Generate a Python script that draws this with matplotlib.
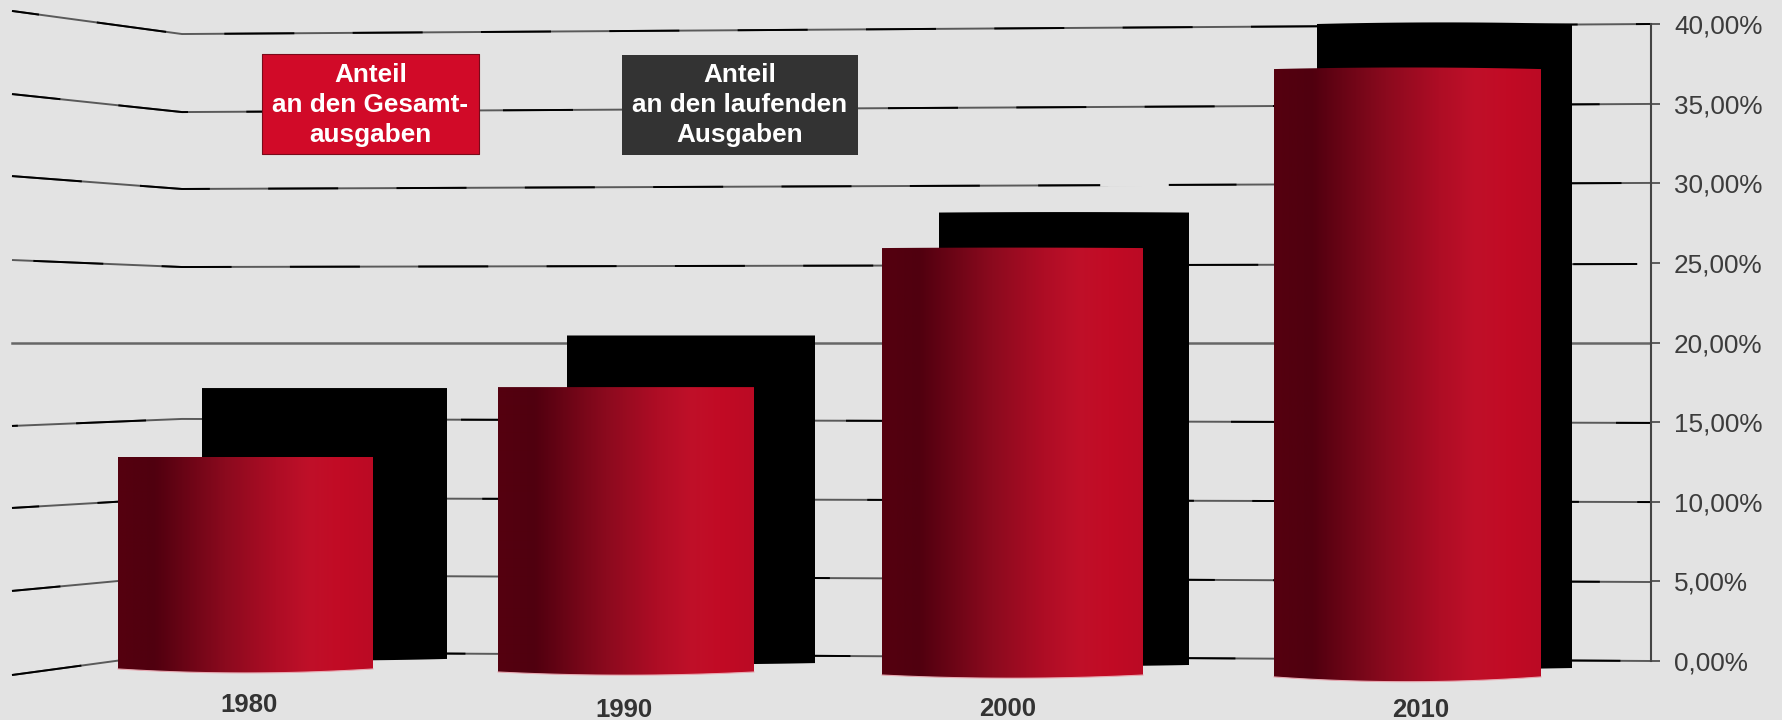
import numpy as np
import matplotlib
matplotlib.use('Agg')
import matplotlib.pyplot as plt
from matplotlib.colors import LinearSegmentedColormap
from matplotlib.patches import Polygon

plt.rcParams['font.family'] = ['Liberation Sans', 'DejaVu Sans']

years = ['1980', '1990', '2000', '2010']
tick_values = [0, 5, 10, 15, 20, 25, 30, 35, 40]
tick_labels = ['0,00%', '5,00%', '10,00%', '15,00%', '20,00%', '25,00%', '30,00%', '35,00%', '40,00%']

# anteil an den gesamtausgaben (red) / laufenden ausgaben (black)
red_values = [12.81, 17.20, 25.93, 37.17]
black_values = [17.14, 20.44, 28.16, 40.0]
red_bases = [-0.5, -0.69, -0.88, -1.0]
black_bases = [0.13, -0.13, -0.25, -0.44]

red_left = [118, 498, 882, 1274]
red_right = [373, 754, 1143, 1541]
black_left = [202, 567, 939, 1317]
black_right = [447, 815, 1189, 1572]
red_top_sag = [0.0, 0.0, 0.03, 0.1]
black_top_sag = [0.0, 0.0, 0.03, 0.1]
red_base_sag = [0.25, 0.2, 0.2, 0.3]
black_base_sag = [0.1, 0.08, 0.08, 0.08]

label_x = [249, 624, 1008, 1421]
label_y = [-2.75, -3.05, -3.0, -3.05]

# grid lines bend at the back wall of the old 3d chart
grid_x = [12, 182, 1651]
grid_40 = [40.82, 39.37, 40.0]
grid_35 = [35.6, 34.47, 34.98]
grid_30 = [30.45, 29.64, 30.02]
grid_25 = [25.18, 24.74, 24.93]
grid_20 = [20.0, 20.0, 20.0]
grid_15 = [14.76, 15.2, 14.95]
grid_10 = [9.61, 10.24, 9.98]
grid_5 = [4.4, 5.4, 4.96]
grid_0 = [-0.88, 0.57, 0.0]
grid_lines = [grid_0, grid_5, grid_10, grid_15, grid_20, grid_25, grid_30, grid_35, grid_40]

bg = '#e3e3e3'
red_cmap = LinearSegmentedColormap.from_list('bar', [
    (0.0, '#55000f'), (0.14, '#50000f'), (0.42, '#8b0a1e'), (0.62, '#ae0d25'),
    (0.75, '#bf1029'), (0.87, '#c20b25'), (1.0, '#bb0a24')])


def bar_outline(x0, x1, top, base, top_sag, base_sag):
    x = np.linspace(x0, x1, 60)
    t = 2 * (x - x0) / (x1 - x0) - 1
    upper = top + top_sag * (1 - t ** 2)
    lower = base - base_sag * (1 - t ** 2)
    return np.column_stack([np.r_[x, x[::-1]], np.r_[upper, lower[::-1]]]), x, lower


fig = plt.figure(figsize=(17.83, 7.2), dpi=100, facecolor=bg)
ax = fig.add_axes([0, 0, 1651 / 1783, 1], facecolor=bg)

for i, vals in enumerate(grid_lines):
    if tick_values[i] == 20:
        ax.plot(grid_x, vals, color='#666666', lw=1.8, zorder=1)
        continue
    ax.plot(grid_x, vals, color='#5a5a5a', lw=1.4, zorder=1, solid_capstyle='butt')
    ax.plot(grid_x, vals, color='black', lw=1.4, zorder=1.1, linestyle=(i * 11, (36, 30)))

# gaps in the lines
ax.plot([720, 752], [39.9, 39.9], color=bg, lw=4, zorder=1.2)
ax.plot([1103, 1166], [29.97, 29.97], color=bg, lw=4, zorder=1.2)
ax.plot([1640, 1650], [24.93, 24.93], color=bg, lw=4, zorder=1.2)

for i in range(4):
    pts, x, lower = bar_outline(black_left[i], black_right[i], black_values[i], black_bases[i],
                                black_top_sag[i], black_base_sag[i])
    ax.add_patch(Polygon(pts, closed=True, facecolor='black', edgecolor='none', zorder=2))

    pts, x, lower = bar_outline(red_left[i], red_right[i], red_values[i], red_bases[i],
                                red_top_sag[i], red_base_sag[i])
    clip = Polygon(pts, closed=True, facecolor='none', edgecolor='none', transform=ax.transData)
    ax.add_patch(clip)
    top = red_values[i] + red_top_sag[i]
    low = red_bases[i] - red_base_sag[i]
    img = ax.imshow(np.linspace(0, 1, 256)[None, :], cmap=red_cmap, aspect='auto', zorder=3,
                    extent=[red_left[i], red_right[i], low, top], interpolation='bilinear')
    img.set_clip_path(clip)
    ax.plot(x, lower, color='#e8a9b2', lw=0.8, zorder=3.1)
    ax.text(label_x[i], label_y[i], years[i], ha='center', va='center', fontsize=18.5,
            fontweight='bold', color='#333333')

# legend boxes
ax.text(370.5, 34.9, 'Anteil\nan den Gesamt-\nausgaben', ha='center', va='center', color='white',
        fontsize=18.8, fontweight='bold', linespacing=1.31, zorder=5)
ax.text(740, 34.9, 'Anteil\nan den laufenden\nAusgaben', ha='center', va='center', color='white',
        fontsize=18.8, fontweight='bold', linespacing=1.31, zorder=5)
ax.fill_between([262, 479], 31.84, 38.12, facecolor='#d10a28', edgecolor='#7a0a1a', lw=0.8, zorder=4)
ax.fill_between([622, 858], 31.78, 38.06, facecolor='#333333', edgecolor='none', zorder=4)

ax.set_xlim(0, 1651)
ax.set_ylim(-59 / 15.925, 661 / 15.925)
ax.set_xticks([])
ax.set_yticks(tick_values, tick_labels)
ax.yaxis.tick_right()
ax.tick_params(axis='y', direction='out', length=6.5, width=1.2, color='#444444', pad=10,
               labelsize=18.8, labelcolor='#3c3c3c')
for side in ['left', 'top', 'bottom']:
    ax.spines[side].set_visible(False)
ax.spines['right'].set_bounds(0, 40)
ax.spines['right'].set_color('#444444')
ax.spines['right'].set_linewidth(1.5)

fig.savefig('out.png', dpi=100, facecolor=bg)
